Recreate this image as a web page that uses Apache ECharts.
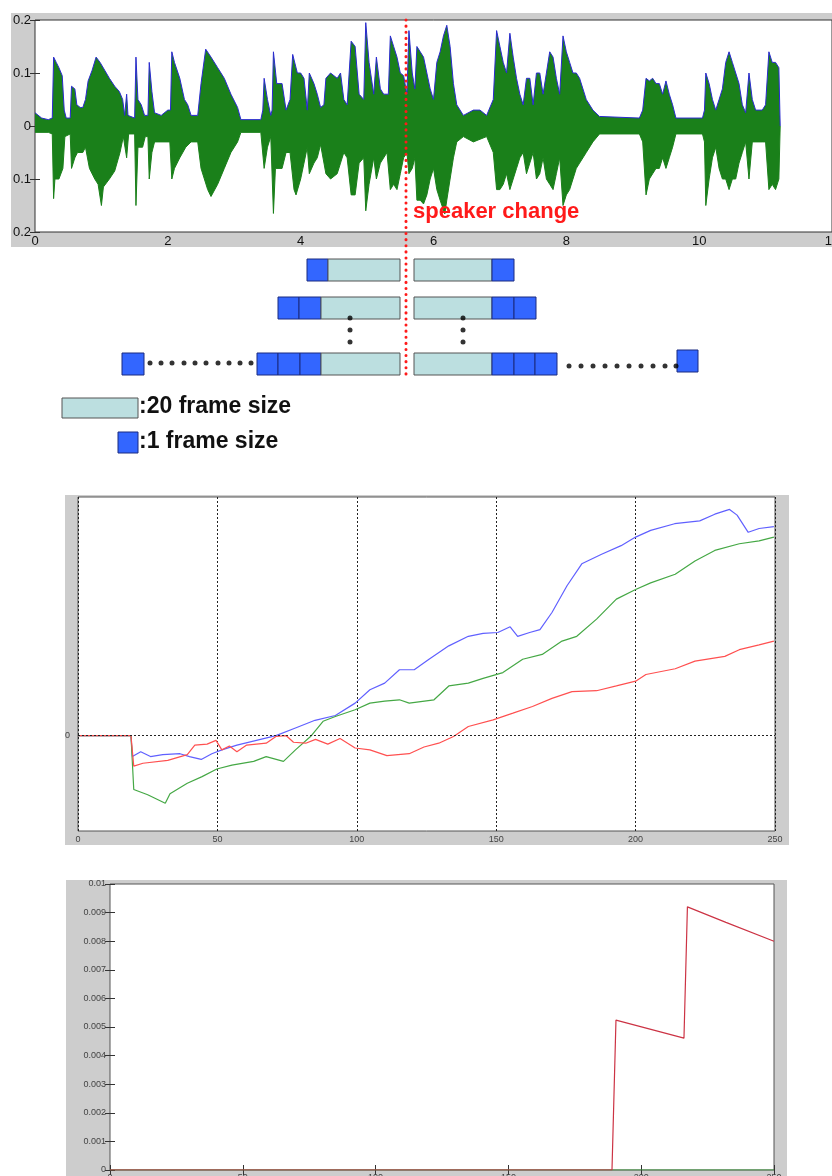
<!DOCTYPE html>
<html>
<head>
<meta charset="utf-8">
<title>speaker change</title>
<script src="https://cdn.jsdelivr.net/npm/echarts@6/dist/echarts.min.js"></script>
<style>
  html, body { margin: 0; padding: 0; background: #fff; }
  #main { width: 832px; height: 1176px; }
</style>
</head>
<body>
<div id="main"></div>
<script>
// top: waveform envelope, [seconds, amplitude]
const waveUpper = [[0,0.025],[0.1,0.015],[0.2,0.012],[0.26,0.015],[0.28,0.13],[0.32,0.12],[0.36,0.11],[0.41,0.095],[0.44,0.03],[0.47,0.015],[0.53,0.015],[0.55,0.075],[0.6,0.07],[0.63,0.04],[0.68,0.035],[0.72,0.035],[0.76,0.05],[0.8,0.085],[0.86,0.105],[0.92,0.13],[0.98,0.12],[1.05,0.105],[1.12,0.09],[1.2,0.075],[1.27,0.065],[1.32,0.05],[1.35,0.02],[1.38,0.06],[1.4,0.02],[1.5,0.015],[1.52,0.13],[1.55,0.05],[1.6,0.04],[1.65,0.02],[1.7,0.02],[1.72,0.12],[1.76,0.065],[1.8,0.025],[1.9,0.02],[2.0,0.03],[2.04,0.03],[2.06,0.14],[2.1,0.12],[2.18,0.09],[2.25,0.05],[2.3,0.04],[2.35,0.02],[2.45,0.02],[2.5,0.08],[2.57,0.145],[2.65,0.13],[2.75,0.11],[2.85,0.09],[2.95,0.06],[3.05,0.035],[3.1,0.012],[3.4,0.012],[3.43,0.03],[3.45,0.09],[3.5,0.05],[3.55,0.02],[3.57,0.03],[3.59,0.14],[3.64,0.08],[3.72,0.08],[3.78,0.03],[3.84,0.05],[3.88,0.135],[3.95,0.1],[4.0,0.1],[4.05,0.09],[4.1,0.03],[4.13,0.1],[4.2,0.08],[4.25,0.06],[4.3,0.035],[4.35,0.04],[4.38,0.09],[4.45,0.1],[4.55,0.09],[4.6,0.1],[4.65,0.05],[4.7,0.04],[4.76,0.16],[4.82,0.15],[4.88,0.06],[4.95,0.05],[4.98,0.195],[5.03,0.12],[5.1,0.06],[5.14,0.13],[5.2,0.07],[5.25,0.06],[5.32,0.06],[5.35,0.17],[5.4,0.15],[5.45,0.13],[5.5,0.1],[5.55,0.095],[5.6,0.06],[5.63,0.18],[5.68,0.1],[5.72,0.07],[5.75,0.15],[5.8,0.14],[5.85,0.13],[5.9,0.1],[5.95,0.07],[6.0,0.05],[6.05,0.12],[6.1,0.14],[6.15,0.17],[6.2,0.19],[6.25,0.15],[6.3,0.08],[6.35,0.04],[6.45,0.02],[6.6,0.03],[6.7,0.03],[6.8,0.02],[6.9,0.05],[6.95,0.18],[7.0,0.15],[7.05,0.12],[7.1,0.1],[7.15,0.175],[7.2,0.13],[7.25,0.09],[7.3,0.06],[7.35,0.04],[7.4,0.09],[7.45,0.09],[7.5,0.04],[7.55,0.1],[7.6,0.1],[7.65,0.06],[7.7,0.1],[7.75,0.14],[7.8,0.13],[7.85,0.09],[7.9,0.06],[7.95,0.17],[8.0,0.14],[8.05,0.12],[8.1,0.1],[8.15,0.1],[8.2,0.09],[8.3,0.05],[8.4,0.03],[8.5,0.018],[9.1,0.015],[9.15,0.03],[9.2,0.09],[9.25,0.085],[9.3,0.09],[9.35,0.08],[9.4,0.08],[9.45,0.06],[9.5,0.085],[9.55,0.06],[9.6,0.04],[9.65,0.015],[10.05,0.015],[10.08,0.03],[10.1,0.1],[10.15,0.08],[10.2,0.05],[10.25,0.03],[10.3,0.05],[10.35,0.07],[10.4,0.12],[10.45,0.14],[10.5,0.12],[10.55,0.1],[10.6,0.08],[10.65,0.04],[10.7,0.025],[10.75,0.1],[10.8,0.05],[10.85,0.03],[10.95,0.03],[11.0,0.04],[11.05,0.14],[11.1,0.12],[11.15,0.12],[11.2,0.11],[11.22,0]];
const waveLower = [[0,-0.012],[0.2,-0.012],[0.26,-0.015],[0.28,-0.137],[0.3,-0.1],[0.36,-0.1],[0.42,-0.08],[0.45,-0.02],[0.53,-0.015],[0.55,-0.08],[0.6,-0.06],[0.64,-0.05],[0.72,-0.05],[0.76,-0.04],[0.82,-0.08],[0.9,-0.1],[0.95,-0.11],[1.0,-0.15],[1.03,-0.115],[1.12,-0.1],[1.2,-0.085],[1.28,-0.05],[1.33,-0.02],[1.38,-0.06],[1.41,-0.015],[1.5,-0.015],[1.52,-0.15],[1.55,-0.04],[1.62,-0.04],[1.66,-0.02],[1.7,-0.02],[1.72,-0.1],[1.76,-0.05],[1.8,-0.03],[2.03,-0.03],[2.06,-0.1],[2.1,-0.08],[2.18,-0.06],[2.27,-0.04],[2.35,-0.03],[2.45,-0.03],[2.5,-0.08],[2.6,-0.12],[2.65,-0.133],[2.75,-0.11],[2.85,-0.08],[2.95,-0.05],[3.05,-0.03],[3.1,-0.012],[3.4,-0.012],[3.45,-0.08],[3.5,-0.04],[3.55,-0.02],[3.59,-0.165],[3.62,-0.08],[3.72,-0.08],[3.78,-0.05],[3.84,-0.05],[3.9,-0.12],[3.93,-0.13],[4.0,-0.1],[4.05,-0.07],[4.1,-0.04],[4.13,-0.09],[4.2,-0.07],[4.25,-0.06],[4.3,-0.035],[4.38,-0.09],[4.45,-0.1],[4.55,-0.09],[4.6,-0.07],[4.65,-0.05],[4.7,-0.06],[4.76,-0.13],[4.82,-0.13],[4.88,-0.07],[4.95,-0.06],[4.98,-0.16],[5.03,-0.11],[5.1,-0.06],[5.14,-0.1],[5.2,-0.07],[5.3,-0.05],[5.35,-0.12],[5.4,-0.11],[5.45,-0.12],[5.5,-0.09],[5.55,-0.06],[5.6,-0.05],[5.63,-0.09],[5.68,-0.08],[5.72,-0.06],[5.75,-0.14],[5.8,-0.14],[5.85,-0.147],[5.9,-0.13],[5.95,-0.1],[6.0,-0.08],[6.05,-0.12],[6.1,-0.14],[6.17,-0.166],[6.2,-0.14],[6.25,-0.1],[6.3,-0.06],[6.35,-0.03],[6.45,-0.02],[6.6,-0.03],[6.7,-0.025],[6.8,-0.02],[6.9,-0.05],[6.95,-0.12],[7.0,-0.12],[7.05,-0.11],[7.1,-0.09],[7.15,-0.12],[7.2,-0.1],[7.25,-0.08],[7.3,-0.06],[7.35,-0.05],[7.4,-0.09],[7.45,-0.07],[7.5,-0.05],[7.55,-0.1],[7.6,-0.09],[7.65,-0.06],[7.7,-0.1],[7.75,-0.11],[7.8,-0.12],[7.85,-0.09],[7.9,-0.06],[7.95,-0.15],[8.0,-0.13],[8.05,-0.12],[8.1,-0.1],[8.15,-0.08],[8.2,-0.07],[8.3,-0.05],[8.4,-0.03],[8.5,-0.015],[9.1,-0.015],[9.15,-0.03],[9.2,-0.13],[9.25,-0.1],[9.3,-0.09],[9.35,-0.08],[9.4,-0.08],[9.45,-0.06],[9.5,-0.08],[9.55,-0.06],[9.6,-0.04],[9.65,-0.015],[10.05,-0.015],[10.08,-0.03],[10.1,-0.15],[10.15,-0.1],[10.2,-0.06],[10.25,-0.04],[10.3,-0.08],[10.35,-0.1],[10.4,-0.1],[10.45,-0.12],[10.5,-0.1],[10.55,-0.1],[10.6,-0.07],[10.65,-0.05],[10.7,-0.03],[10.75,-0.1],[10.8,-0.03],[10.95,-0.03],[11.0,-0.03],[11.05,-0.12],[11.1,-0.11],[11.15,-0.12],[11.2,-0.1],[11.22,0]];
const secondTicks = [0, 2, 4, 6, 8, 10, 12];

// middle: three curves vs frame index, [frame, value]
const blueCurve = [[0,0],[19,0],[19.5,-0.22],[22.5,-0.17],[26,-0.22],[30.4,-0.2],[36.6,-0.19],[40,-0.22],[44.2,-0.25],[48,-0.19],[51.6,-0.15],[57,-0.1],[64,-0.05],[71,0],[78,0.08],[85,0.16],[92.3,0.21],[99.4,0.34],[104.7,0.48],[110,0.55],[115.3,0.69],[120.6,0.69],[125.9,0.8],[133,0.94],[140,1.04],[145.3,1.07],[150.6,1.08],[155,1.14],[157.7,1.04],[162,1.08],[165.7,1.11],[170,1.29],[175.4,1.57],[180.7,1.8],[187.8,1.9],[194.8,1.99],[200,2.08],[205.4,2.15],[214,2.22],[223,2.25],[228.4,2.32],[233.7,2.37],[236.4,2.31],[240.4,2.13],[244.3,2.17],[249.6,2.19]];
const greenCurve = [[0,0],[19,0],[20,-0.565],[25,-0.62],[31.3,-0.71],[33,-0.61],[39.2,-0.5],[44.5,-0.43],[49.8,-0.35],[55.2,-0.31],[63,-0.27],[67.5,-0.22],[73.7,-0.27],[78,-0.15],[83.4,-0.01],[87.9,0.15],[92.3,0.2],[99.4,0.27],[104.7,0.34],[110,0.36],[115.3,0.375],[118.8,0.34],[127.7,0.375],[133,0.52],[140,0.55],[145.3,0.6],[152.4,0.66],[159.5,0.8],[166.5,0.85],[173.6,0.99],[178.9,1.04],[186,1.22],[193.1,1.43],[200,1.53],[205.4,1.6],[214.2,1.69],[221.3,1.83],[228.4,1.94],[237.2,2.01],[244.3,2.04],[249.6,2.08]];
const redCurve = [[0,0],[19,0],[20,-0.32],[23.3,-0.29],[32.2,-0.26],[39.2,-0.2],[41.9,-0.1],[46.3,-0.09],[49.5,-0.05],[51.6,-0.15],[54.3,-0.11],[57,-0.17],[60.5,-0.1],[67.5,-0.08],[71,-0.01],[74.6,0],[77.3,-0.07],[81.7,-0.08],[85.2,-0.04],[89.6,-0.09],[94,-0.03],[99.4,-0.13],[104.7,-0.15],[110.8,-0.21],[118.8,-0.19],[124.1,-0.12],[129.4,-0.08],[134.7,-0.01],[140,0.095],[148.9,0.165],[156,0.235],[163,0.305],[170,0.39],[177.2,0.46],[186,0.47],[193.1,0.52],[200,0.57],[203.7,0.64],[214.2,0.7],[221.3,0.78],[232,0.83],[237.2,0.9],[244.3,0.95],[249.6,0.99]];
const frameTicks = [0, 50, 100, 150, 200, 250];

// bottom: [frame, value]
const bottomGreen = [[0,0],[250,0]];
const bottomRed = [[0,0],[189,0],[190.5,0.00524],[216.1,0.00461],[217.4,0.0092],[231.9,0.00866],[250,0.008]];

// diagram (page pixel space): [x0, x1, y0, y1, kind] kind 0 = 1 frame, 1 = 20 frames
const diagramBlocks = [
  [307,328,259,281,0],[328,400,259,281,1],[414,492,259,281,1],[492,514,259,281,0],
  [278,299,297,319,0],[299,321,297,319,0],[321,400,297,319,1],[414,492,297,319,1],[492,514,297,319,0],[514,536,297,319,0],
  [122,144,353,375,0],[257,278,353,375,0],[278,300,353,375,0],[300,321,353,375,0],[321,400,353,375,1],
  [414,492,353,375,1],[492,514,353,375,0],[514,535,353,375,0],[535,557,353,375,0],[677,698,350,372,0],
  [62,138,398,418,1],[118,138,432,453,0]
];
const diagramDots = [
  [350,318],[350,330],[350,342],[463,318],[463,330],[463,342],
  [150,363],[161,363],[172,363],[184,363],[195,363],[206,363],[218,363],[229,363],[240,363],[251,363],
  [569,366],[581,366],[593,366],[605,366],[617,366],[629,366],[641,366],[653,366],[665,366],[676,366]
];
const changeLine = [[406,20],[406,377]];

const chart = echarts.init(document.getElementById('main'), null, { renderer: 'canvas' });

const tickIn = { show: true, inside: true, length: 5, lineStyle: { color: '#333' } };
const smallLabel = { fontSize: 9, color: '#444', fontFamily: 'Liberation Sans, Arial' };
const boxGrid = { show: true, backgroundColor: '#fff', borderWidth: 1, outerBoundsMode: 'none', containLabel: false };

const option = {
  animation: false,
  backgroundColor: '#fff',
  graphic: [
    { type: 'rect', z: -100, shape: { x: 11, y: 13, width: 821, height: 234 }, style: { fill: '#cdcdcd' } },
    { type: 'rect', z: -100, shape: { x: 65, y: 495, width: 724, height: 350 }, style: { fill: '#cdcdcd' } },
    { type: 'rect', z: -100, shape: { x: 66, y: 880, width: 721, height: 296 }, style: { fill: '#cdcdcd' } },
    { type: 'text', z: 100, left: 413, top: 201, style: { text: 'speaker change', fill: '#ff1a1a', font: 'bold 22px "Liberation Sans", Arial' } },
    { type: 'text', z: 100, left: 139, top: 395, style: { text: ':20 frame size', fill: '#111', font: 'bold 23px "Liberation Sans", Arial' } },
    { type: 'text', z: 100, left: 139, top: 430, style: { text: ':1 frame size', fill: '#111', font: 'bold 23px "Liberation Sans", Arial' } }
  ],
  grid: [
    Object.assign({ left: 35, top: 20, width: 797, height: 212, borderColor: '#333' }, boxGrid),
    Object.assign({ left: 78, top: 497, width: 697, height: 334, borderColor: '#555' }, boxGrid),
    Object.assign({ left: 110, top: 884, width: 664, height: 286, borderColor: '#555' }, boxGrid),
    { left: 0, top: 0, width: 832, height: 1176, show: false, outerBoundsMode: 'none' }
  ],
  xAxis: [
    { gridIndex: 0, type: 'value', min: 0, max: 12, interval: 2, axisLine: { show: false }, axisTick: tickIn, splitLine: { show: false },
      axisLabel: { margin: 3, fontSize: 13, color: '#111', fontFamily: 'Liberation Sans, Arial' } },
    { gridIndex: 0, type: 'value', position: 'top', min: 0, max: 12, interval: 2, axisLine: { show: false }, axisTick: tickIn, splitLine: { show: false }, axisLabel: { show: false } },
    { gridIndex: 1, type: 'value', min: 0, max: 250, interval: 50, axisLine: { show: false }, axisTick: { show: false },
      splitLine: { show: true, lineStyle: { color: '#222', type: [2, 2], width: 1 } },
      axisLabel: Object.assign({ margin: 4 }, smallLabel) },
    { gridIndex: 2, type: 'value', min: 0, max: 250, interval: 50, axisLine: { show: false }, axisTick: tickIn, splitLine: { show: false },
      axisLabel: Object.assign({ margin: 3 }, smallLabel) },
    { gridIndex: 2, type: 'value', position: 'top', min: 0, max: 250, interval: 50, axisLine: { show: false }, axisTick: tickIn, splitLine: { show: false }, axisLabel: { show: false } },
    { gridIndex: 3, type: 'value', min: 0, max: 832, show: false }
  ],
  yAxis: [
    { gridIndex: 0, type: 'value', min: -0.2, max: 0.2, interval: 0.1, axisLine: { show: false }, axisTick: tickIn, splitLine: { show: false },
      axisLabel: { margin: 4, fontSize: 13, color: '#111', fontFamily: 'Liberation Sans, Arial', formatter: v => String(Math.abs(Math.round(v * 10) / 10)) } },
    { gridIndex: 0, type: 'value', position: 'right', min: -0.2, max: 0.2, interval: 0.1, axisLine: { show: false }, axisTick: tickIn, splitLine: { show: false }, axisLabel: { show: false } },
    { gridIndex: 1, type: 'value', min: -1, max: 2.5, interval: 0.5, axisLine: { show: false }, axisTick: { show: false }, splitLine: { show: false },
      axisLabel: Object.assign({ margin: 8, formatter: v => (v === 0 ? '0' : '') }, smallLabel) },
    { gridIndex: 2, type: 'value', min: 0, max: 0.01, interval: 0.001, axisLine: { show: false }, axisTick: tickIn, splitLine: { show: false },
      axisLabel: Object.assign({ margin: 4, formatter: v => String(Math.round(v * 1000) / 1000) }, smallLabel) },
    { gridIndex: 2, type: 'value', position: 'right', min: 0, max: 0.01, interval: 0.001, axisLine: { show: false }, axisTick: tickIn, splitLine: { show: false }, axisLabel: { show: false } },
    { gridIndex: 3, type: 'value', min: 0, max: 1176, inverse: true, show: false }
  ],
  series: [
    { type: 'line', xAxisIndex: 0, yAxisIndex: 0, data: waveLower, showSymbol: false, lineStyle: { color: '#1a801a', width: 1 }, areaStyle: { color: '#1a801a', opacity: 1 } },
    { type: 'line', xAxisIndex: 0, yAxisIndex: 0, data: waveUpper, showSymbol: false, lineStyle: { color: '#2a2ad0', width: 1 }, areaStyle: { color: '#1a801a', opacity: 1 } },

    { type: 'line', xAxisIndex: 2, yAxisIndex: 2, data: blueCurve, showSymbol: false, lineStyle: { color: '#6060ff', width: 1.2 },
      markLine: { silent: true, symbol: 'none', label: { show: false }, lineStyle: { color: '#222', type: [2, 2], width: 1 }, data: [{ yAxis: 0 }] } },
    { type: 'line', xAxisIndex: 2, yAxisIndex: 2, data: greenCurve, showSymbol: false, lineStyle: { color: '#45a845', width: 1.2 } },
    { type: 'line', xAxisIndex: 2, yAxisIndex: 2, data: redCurve, showSymbol: false, lineStyle: { color: '#ff5050', width: 1.2 } },

    { type: 'line', xAxisIndex: 3, yAxisIndex: 3, data: bottomGreen, showSymbol: false, lineStyle: { color: '#3a9a3a', width: 1 } },
    { type: 'line', xAxisIndex: 3, yAxisIndex: 3, data: bottomRed, showSymbol: false, lineStyle: { color: '#cc3344', width: 1.2 } },

    { type: 'custom', xAxisIndex: 5, yAxisIndex: 5, data: diagramBlocks,
      renderItem: (params, api) => {
        const p0 = api.coord([api.value(0), api.value(2)]);
        const p1 = api.coord([api.value(1), api.value(3)]);
        const big = api.value(4) === 1;
        return { type: 'rect', shape: { x: p0[0], y: p0[1], width: p1[0] - p0[0], height: p1[1] - p0[1] },
          style: { fill: big ? '#bcdfe0' : '#3366ff', stroke: big ? '#555' : '#1a2a80', lineWidth: 1 } };
      } },
    { type: 'scatter', xAxisIndex: 5, yAxisIndex: 5, data: diagramDots, symbol: 'circle', symbolSize: 5, itemStyle: { color: '#000' } },
    { type: 'line', xAxisIndex: 5, yAxisIndex: 5, data: changeLine, showSymbol: false, z: 10,
      lineStyle: { color: '#ff1a1a', width: 3, type: [0.1, 6], cap: 'round' } }
  ]
};

chart.setOption(option);
</script>
</body>
</html>
